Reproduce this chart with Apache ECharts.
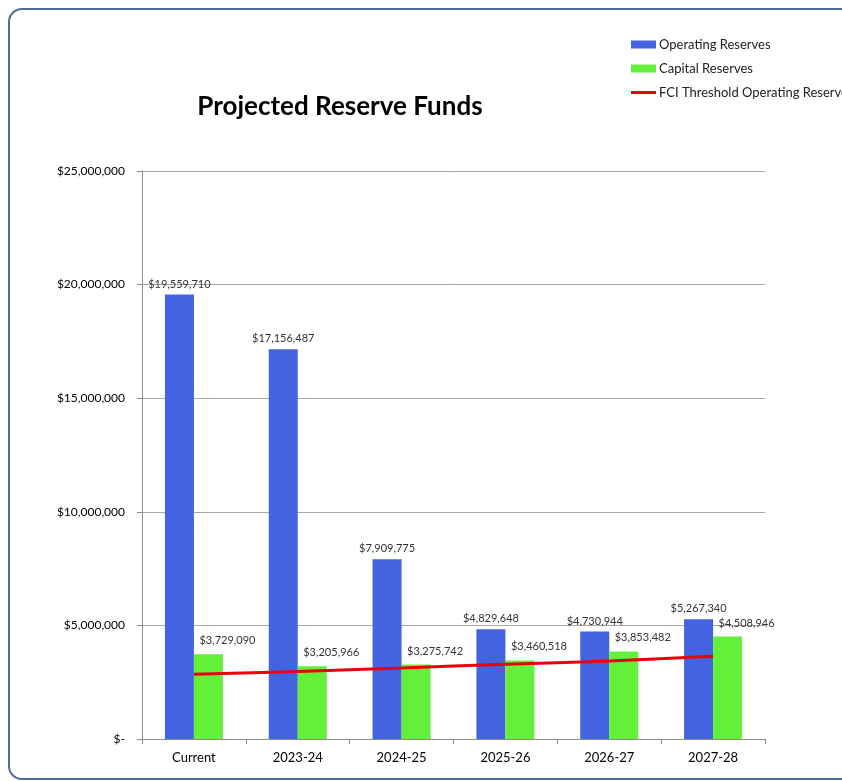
<!DOCTYPE html>
<html>
<head>
<meta charset="utf-8">
<script src="https://cdn.jsdelivr.net/npm/echarts@6/dist/echarts.min.js"></script>
<style>
  html, body { margin: 0; padding: 0; background: #ffffff; }
  #frame { position: absolute; left: 8px; top: 8px; width: 860px; height: 772px;
           border: 2px solid #4d6b98; border-radius: 14px; box-sizing: border-box; background: #fff; }
  #chart { position: absolute; left: 0; top: 0; width: 842px; height: 781px; }
</style>
</head>
<body>
<div id="frame"></div>
<div id="chart"></div>
<script>
const categories = ['Current', '2023-24', '2024-25', '2025-26', '2026-27', '2027-28'];
const operatingReserves = [19559710, 17156487, 7909775, 4829648, 4730944, 5267340];
const capitalReserves = [3729090, 3205966, 3275742, 3460518, 3853482, 4508946];
const fciThreshold = [2850000, 2970000, 3130000, 3290000, 3430000, 3640000];
const yTicks = [0, 5000000, 10000000, 15000000, 20000000, 25000000];

const fmt = v => v === 0 ? '$-' : '$' + Math.round(v).toLocaleString('en-US');
const font = 'Lato, "Open Sans", sans-serif';

const chart = echarts.init(document.getElementById('chart'), null, { renderer: 'canvas' });
chart.setOption({
  animation: false,
  backgroundColor: 'transparent',
  textStyle: { fontFamily: font },
  title: {
    text: 'Projected Reserve Funds',
    left: 335, top: 89, textAlign: 'center',
    textStyle: { fontSize: 26, fontWeight: 'bold', color: '#000', fontFamily: font }
  },
  legend: {
    orient: 'vertical', left: 626, top: 33, itemWidth: 25, itemHeight: 8, itemGap: 11,
    textStyle: { fontSize: 13, color: '#222', fontFamily: font, padding: [0, 0, 0, -2] },
    data: [
      { name: 'Operating Reserves', icon: 'rect' },
      { name: 'Capital Reserves', icon: 'rect' },
      { name: 'FCI Threshold Operating Reserve', icon: 'path://M0,0 L25,0 L25,3 L0,3 Z' }
    ]
  },
  grid: { left: 142, right: 77, top: 171, bottom: 42, containLabel: false },
  xAxis: {
    type: 'category', data: categories,
    axisLine: { lineStyle: { color: '#8c8c8c', width: 1 } },
    axisTick: { show: true, length: 5, lineStyle: { color: '#8c8c8c' } },
    axisLabel: { color: '#000', fontSize: 13, margin: 12, fontFamily: font }
  },
  yAxis: {
    type: 'value', min: yTicks[0], max: yTicks[yTicks.length - 1], interval: 5000000,
    axisLine: { show: true, lineStyle: { color: '#8c8c8c' } },
    axisTick: { show: true, length: 5, lineStyle: { color: '#8c8c8c' } },
    splitLine: { lineStyle: { color: '#a6a6a6', width: 1 } },
    axisLabel: { color: '#000', fontSize: 12, margin: 17, formatter: fmt, fontFamily: font }
  },
  series: [
    {
      name: 'Operating Reserves', type: 'bar', data: operatingReserves,
      barWidth: 29, barGap: '0%',
      itemStyle: { color: '#4363e0' },
      label: { show: true, position: 'top', distance: 5, formatter: p => fmt(p.value),
               fontSize: 11, color: '#333', fontFamily: font }
    },
    {
      name: 'Capital Reserves', type: 'bar', data: capitalReserves,
      barWidth: 29, barGap: '0%',
      itemStyle: { color: '#63ef3a' },
      label: { show: true, position: 'top', distance: 5, offset: [19, -3], formatter: p => fmt(p.value),
               fontSize: 11, color: '#333', fontFamily: font }
    },
    {
      name: 'FCI Threshold Operating Reserve', type: 'line', data: fciThreshold,
      symbol: 'none', smooth: 0.3, z: 5,
      lineStyle: { color: '#e8000e', width: 3 },
      itemStyle: { color: '#e8000e' }
    }
  ]
});
</script>
</body>
</html>
